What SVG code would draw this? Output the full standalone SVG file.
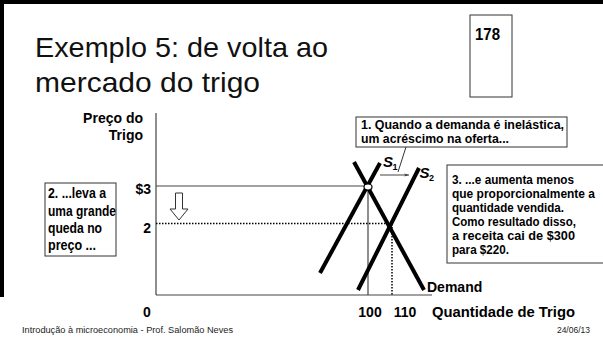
<svg xmlns="http://www.w3.org/2000/svg" width="603" height="341" viewBox="0 0 603 341">
  <defs>
    <style>
      .title { font-family: "Liberation Sans", Arial, sans-serif; font-size: 28px; fill: #111; }
      .b { font-family: "Liberation Sans Narrow", "Liberation Sans", Arial, sans-serif; font-weight: bold; fill: #000; }
      .foot { font-family: "Liberation Sans", Arial, sans-serif; font-size: 8.5px; fill: #222; }
      .box { fill: #fff; stroke: #333; stroke-width: 1; }
      .axis { stroke: #444; stroke-width: 1.2; fill: none; }
      .thick { stroke: #000; stroke-width: 4; fill: none; }
      .dot { stroke: #000; stroke-width: 1.5; stroke-dasharray: 1.5 1.5; fill: none; }
    </style>
    <marker id="ah" viewBox="0 0 10 10" refX="10" refY="5" markerWidth="7" markerHeight="5" orient="auto" markerUnits="userSpaceOnUse">
      <path d="M0,2 L10,5 L0,8 L3,5 Z" fill="#333"/>
    </marker>
  </defs>
  <rect width="603" height="341" fill="#fff"/>
  <!-- slide frame -->
  <rect x="0" y="0" width="603" height="4" fill="#000"/>
  <rect x="0" y="0" width="4" height="297" fill="#000"/>

  <g id="title">
    <text class="title" x="35" y="57" textLength="293" lengthAdjust="spacingAndGlyphs">Exemplo 5: de volta ao</text>
    <text class="title" x="35" y="92" textLength="225" lengthAdjust="spacingAndGlyphs">mercado do trigo</text>
  </g>

  <g id="page-number">
    <rect class="box" x="470" y="15" width="42" height="82"/>
    <text class="b" x="475" y="40" font-size="17" textLength="25" lengthAdjust="spacingAndGlyphs">178</text>
  </g>

  <g id="axes">
    <line class="axis" x1="156" y1="113" x2="156" y2="295"/>
    <line class="axis" x1="156" y1="295" x2="432" y2="295"/>
    <text class="b" x="143" y="123" font-size="14" text-anchor="end">Preço do</text>
    <text class="b" x="143" y="140" font-size="14" text-anchor="end">Trigo</text>
    <text class="b" x="151" y="194" font-size="14" text-anchor="end">$3</text>
    <text class="b" x="151" y="233" font-size="14" text-anchor="end">2</text>
    <text class="b" x="147" y="317" font-size="14" text-anchor="middle">0</text>
    <text class="b" x="370" y="317" font-size="14" text-anchor="middle">100</text>
    <text class="b" x="405" y="317" font-size="14" text-anchor="middle">110</text>
    <text class="b" x="432" y="317" font-size="15" textLength="143" lengthAdjust="spacingAndGlyphs">Quantidade de Trigo</text>
  </g>

  <g id="connectors">
    <line class="axis" x1="156" y1="186" x2="368" y2="186"/>
    <line class="axis" x1="368" y1="186" x2="368" y2="295"/>
    <line class="dot" x1="156" y1="223.5" x2="390" y2="223.5"/>
    <line class="dot" x1="392" y1="224" x2="392" y2="295"/>
    <line x1="380" y1="175" x2="409" y2="175" stroke="#444" stroke-width="1" marker-end="url(#ah)"/>
    <line x1="406" y1="147" x2="398" y2="172" stroke="#333" stroke-width="1"/>
    <path d="M175.5,193 H182.5 V209 H188 L179,220 L170,209 H175.5 Z" fill="#fff" stroke="#333" stroke-width="1"/>
  </g>

  <g id="supply1">
    <line class="thick" x1="320" y1="273" x2="380" y2="163"/>
    <text class="b" x="383" y="167" font-size="15" font-style="italic">S</text>
    <text class="b" x="392.5" y="170" font-size="9">1</text>
  </g>
  <g id="supply2">
    <line class="thick" x1="358" y1="290" x2="419" y2="168"/>
    <text class="b" x="419.5" y="178" font-size="15" font-style="italic">S</text>
    <text class="b" x="429" y="181" font-size="9">2</text>
  </g>
  <g id="demand">
    <line class="thick" x1="354" y1="162" x2="424" y2="290"/>
    <text class="b" x="427" y="292" font-size="14">Demand</text>
  </g>
  <g id="equilibrium">
    <ellipse cx="368" cy="187" rx="4" ry="3" fill="#fff" stroke="#000" stroke-width="1.2"/>
  </g>

  <g id="note1">
    <rect class="box" x="356" y="117" width="211" height="30"/>
    <text class="b" x="361" y="129" font-size="13" textLength="203" lengthAdjust="spacingAndGlyphs">1. Quando a demanda é inelástica,</text>
    <text class="b" x="361" y="143" font-size="13" textLength="148" lengthAdjust="spacingAndGlyphs">um acréscimo na oferta...</text>
  </g>

  <g id="note2">
    <rect class="box" x="45" y="183" width="71" height="73"/>
    <text class="b" x="48" y="198" font-size="14" textLength="58" lengthAdjust="spacingAndGlyphs">2. ...leva a</text>
    <text class="b" x="48" y="215.5" font-size="14" textLength="68" lengthAdjust="spacingAndGlyphs">uma grande</text>
    <text class="b" x="48" y="233" font-size="14" textLength="54" lengthAdjust="spacingAndGlyphs">queda no</text>
    <text class="b" x="48" y="250" font-size="14" textLength="48" lengthAdjust="spacingAndGlyphs">preço ...</text>
  </g>

  <g id="note3">
    <rect x="447" y="165" width="160" height="98" fill="#fff" stroke="#555" stroke-width="1.2"/>
    <text class="b" x="452" y="184" font-size="13" textLength="122" lengthAdjust="spacingAndGlyphs">3. ...e aumenta menos</text>
    <text class="b" x="452" y="198" font-size="13" textLength="143" lengthAdjust="spacingAndGlyphs">que proporcionalmente a</text>
    <text class="b" x="452" y="212" font-size="13" textLength="112" lengthAdjust="spacingAndGlyphs">quantidade vendida.</text>
    <text class="b" x="452" y="226" font-size="13" textLength="124" lengthAdjust="spacingAndGlyphs">Como resultado disso,</text>
    <text class="b" x="452" y="240" font-size="13" textLength="123" lengthAdjust="spacingAndGlyphs">a receita cai de $300</text>
    <text class="b" x="452" y="254" font-size="13" textLength="57" lengthAdjust="spacingAndGlyphs">para $220.</text>
  </g>

  <g id="footer">
    <text class="foot" x="22" y="333" textLength="211" lengthAdjust="spacingAndGlyphs">Introdução à microeconomia - Prof. Salomão Neves</text>
    <text class="foot" x="590" y="333" text-anchor="end">24/06/13</text>
  </g>
</svg>
